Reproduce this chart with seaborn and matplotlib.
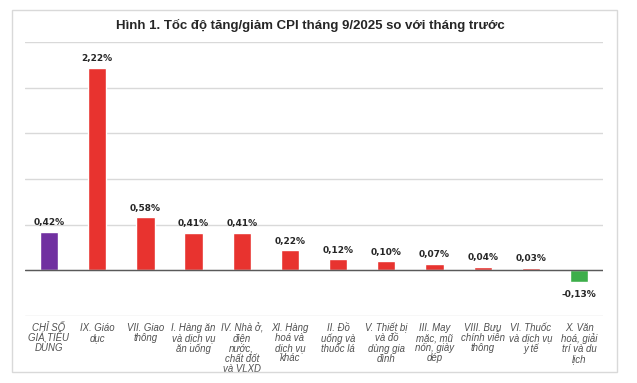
import matplotlib
matplotlib.use("Agg")
import matplotlib.pyplot as plt
import matplotlib.patches as mpatches
import seaborn as sns
import pandas as pd

# Data
categories = [
    "CHỈ SỐ\nGIÁ TIÊU\nDÙNG",
    "IX. Giáo\ndục",
    "VII. Giao\nthông",
    "I. Hàng ăn\nvà dịch vụ\năn uống",
    "IV. Nhà ở,\nđiện\nnước,\nchất đốt\nvà VLXD",
    "XI. Hàng\nhoá và\ndịch vụ\nkhác",
    "II. Đồ\nuống và\nthuốc lá",
    "V. Thiết bị\nvà đồ\ndùng gia\nđình",
    "III. May\nmặc, mũ\nnón, giày\ndép",
    "VIII. Bưu\nchính viễn\nthông",
    "VI. Thuốc\nvà dịch vụ\ny tế",
    "X. Văn\nhoá, giải\ntrí và du\nlịch",
]
values = [0.42, 2.22, 0.58, 0.41, 0.41, 0.22, 0.12, 0.10, 0.07, 0.04, 0.03, -0.13]
colors = ["#7030A0"] + ["#E8332F"] * 10 + ["#3DAE4A"]

df = pd.DataFrame({"cat": categories, "val": values})

sns.set_style("white")
plt.rcParams["font.family"] = ["Liberation Sans", "DejaVu Sans"]

fig = plt.figure(figsize=(6.37, 3.83), dpi=100)
ax = fig.add_axes([0.039, 0.175, 0.908, 0.715])

sns.barplot(data=df, x="cat", y="val", hue="cat", palette=colors,
            legend=False, width=0.38, ax=ax, saturation=1)

ax.set_ylim(-0.5, 2.5)
ax.set_xlim(-0.5, len(categories) - 0.5)
ax.set_yticks([-0.5, 0, 0.5, 1.0, 1.5, 2.0, 2.5])
ax.yaxis.grid(True, color="#D9D9D9", linewidth=1)
ax.set_axisbelow(True)
ax.tick_params(axis="y", left=False, labelleft=False)
ax.tick_params(axis="x", bottom=False, pad=1.5)
ax.axhline(0, color="#595959", linewidth=1, zorder=1)
for s in ax.spines.values():
    s.set_visible(False)
ax.set_xlabel("")
ax.set_ylabel("")

ax.set_xticks(range(len(categories)))
ax.set_xticklabels(categories, fontsize=6.9, style="italic", color="#505050",
                   linespacing=1.02, va="top")

# value labels
for i, v in enumerate(values):
    txt = f"{v:.2f}".replace(".", ",") + "%"
    if v >= 0:
        ax.text(i, v + 0.05, txt, ha="center", va="bottom", fontsize=6.5,
                fontweight="bold", color="#262626", family="DejaVu Sans")
    else:
        ax.text(i, v - 0.08, txt, ha="center", va="top", fontsize=6.5,
                fontweight="bold", color="#262626", family="DejaVu Sans")

fig.text(0.488, 0.933, "Hình 1. Tốc độ tăng/giảm CPI tháng 9/2025 so với tháng trước",
         ha="center", va="center", fontsize=9.5, fontweight="bold", color="#262626")

# outer frame
frame = mpatches.Rectangle((12 / 637, 1 - 372 / 383), 605 / 637, 362 / 383,
                           transform=fig.transFigure, fill=False,
                           edgecolor="#D9D9D9", linewidth=1)
fig.patches.append(frame)

fig.savefig("out.png", dpi=100)
